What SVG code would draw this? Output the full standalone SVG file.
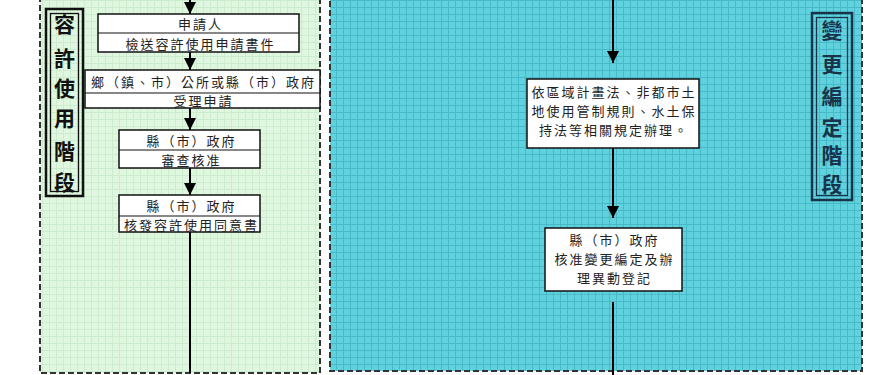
<svg xmlns="http://www.w3.org/2000/svg" width="875" height="375" viewBox="0 0 875 375">
<defs>
<pattern id="gGreen" width="7" height="7" patternUnits="userSpaceOnUse">
<rect width="7" height="7" fill="#dff7df"/>
<path d="M0 0.5H7M0.5 0V7" stroke="#cdebcf" stroke-width="1"/>
</pattern>
<pattern id="gCyan" width="7" height="7" patternUnits="userSpaceOnUse">
<rect width="7" height="7" fill="#5fd2de"/>
<path d="M0 0.5H7M0.5 0V7" stroke="#47b9c9" stroke-width="1"/>
</pattern>
<marker id="ah" markerWidth="12" markerHeight="12" viewBox="0 0 12 12" refX="12" refY="6" orient="auto" markerUnits="userSpaceOnUse">
<path d="M0 0L12 6L0 12Z" fill="#000"/>
</marker>
<style>
.panel{stroke:#333;stroke-width:2;stroke-dasharray:6,3}
.box{fill:#fff;stroke:#111;stroke-width:1.5}
.div{stroke:#111;stroke-width:1.2}
.t{font-family:"Liberation Serif","Noto Sans CJK TC",serif;font-size:13px;letter-spacing:2px;fill:#222;text-anchor:middle}
.lab{font-family:"Liberation Serif","Noto Sans CJK TC",serif;font-size:21px;font-weight:bold;fill:#111;text-anchor:middle}
.labr{fill:#18344a}
.con{stroke:#000;stroke-width:2;fill:none}
</style>
</defs>
<rect width="875" height="375" fill="#fff"/>
<g id="panel-left">
<rect class="panel" x="40" y="-10" width="280" height="383" fill="url(#gGreen)"/>
</g>
<g id="panel-right">
<rect class="panel" x="330" y="-10" width="532" height="381" fill="url(#gCyan)"/>
</g>
<g id="label-left">
<rect x="46" y="9" width="37" height="187" fill="none" stroke="#111" stroke-width="2.5"/>
<rect x="50.5" y="13.5" width="28" height="178" fill="none" stroke="#111" stroke-width="1.3"/>
<text class="lab" x="64.5" y="32">容</text>
<text class="lab" x="64.5" y="66">許</text>
<text class="lab" x="64.5" y="96">使</text>
<text class="lab" x="64.5" y="126">用</text>
<text class="lab" x="64.5" y="159">階</text>
<text class="lab" x="64.5" y="190">段</text>
</g>
<g id="label-right">
<rect x="812" y="13" width="40" height="187" fill="none" stroke="#18344a" stroke-width="2.5"/>
<rect x="816.5" y="17.5" width="31" height="178" fill="none" stroke="#18344a" stroke-width="1.3"/>
<text class="lab labr" x="832" y="38">變</text>
<text class="lab labr" x="832" y="72">更</text>
<text class="lab labr" x="832" y="104">編</text>
<text class="lab labr" x="832" y="135">定</text>
<text class="lab labr" x="832" y="163">階</text>
<text class="lab labr" x="832" y="192">段</text>
</g>
<g id="connectors">
<line class="con" x1="190" y1="-2" x2="190" y2="14" marker-end="url(#ah)"/>
<line class="con" x1="190" y1="52" x2="190" y2="70" marker-end="url(#ah)"/>
<line class="con" x1="190" y1="108" x2="190" y2="130" marker-end="url(#ah)"/>
<line class="con" x1="190" y1="168" x2="190" y2="195" marker-end="url(#ah)"/>
<line class="con" x1="190" y1="232" x2="190" y2="373"/>
<line class="con" x1="613" y1="-2" x2="613" y2="63" marker-end="url(#ah)"/>
<line class="con" x1="613" y1="148" x2="613" y2="218" marker-end="url(#ah)"/>
<line class="con" x1="613" y1="302" x2="613" y2="375"/>
</g>
<g id="node-applicant">
<rect class="box" x="98" y="14" width="201" height="38"/>
<line class="div" x1="98" y1="33" x2="299" y2="33"/>
<text class="t" x="200.5" y="29">申請人</text>
<text class="t" x="200.5" y="49">檢送容許使用申請書件</text>
</g>
<g id="node-township">
<rect class="box" x="85" y="70" width="235" height="38"/>
<line class="div" x1="85" y1="93" x2="320" y2="93"/>
<text class="t" x="203.5" y="87">鄉（鎮、市）公所或縣（市）政府</text>
<text class="t" x="203.5" y="106">受理申請</text>
</g>
<g id="node-review">
<rect class="box" x="119" y="130" width="141" height="38"/>
<line class="div" x1="119" y1="150" x2="260" y2="150"/>
<text class="t" x="191.5" y="146">縣（市）政府</text>
<text class="t" x="191.5" y="165">審查核准</text>
</g>
<g id="node-consent">
<rect class="box" x="119" y="195" width="141" height="37"/>
<line class="div" x1="119" y1="216" x2="260" y2="216"/>
<text class="t" x="191.5" y="211">縣（市）政府</text>
<text class="t" x="191.5" y="230">核發容許使用同意書</text>
</g>
<g id="node-regulation">
<rect class="box" x="527" y="79" width="172" height="69"/>
<text class="t" x="614" y="97">依區域計畫法、非都市土</text>
<text class="t" x="614" y="116">地使用管制規則、水土保</text>
<text class="t" x="614" y="135">持法等相關規定辦理。</text>
</g>
<g id="node-approve">
<rect class="box" x="545" y="228" width="137" height="63"/>
<text class="t" x="614.5" y="245">縣（市）政府</text>
<text class="t" x="614.5" y="264">核准變更編定及辦</text>
<text class="t" x="614.5" y="283">理異動登記</text>
</g>
</svg>
